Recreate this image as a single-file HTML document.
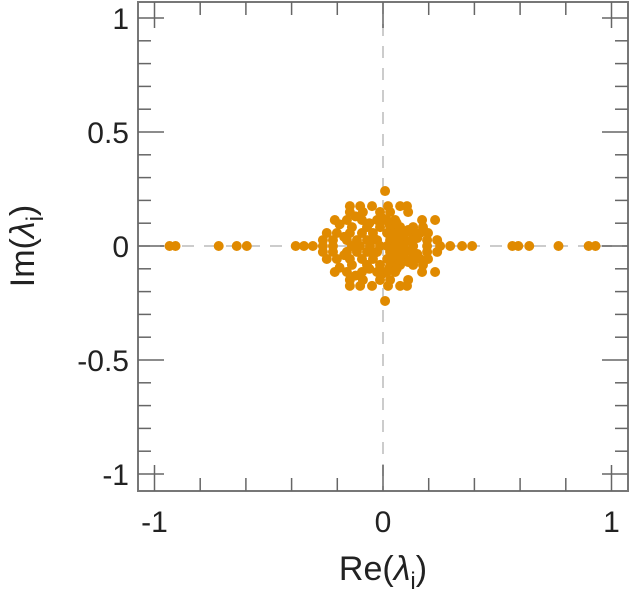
<!DOCTYPE html>
<html><head><meta charset="utf-8"><style>
html,body{margin:0;padding:0;background:#fff;width:630px;height:600px;overflow:hidden}
svg text{font-family:"Liberation Sans",sans-serif;fill:#222}
</style></head><body>
<svg id="chart" width="630" height="600" xmlns="http://www.w3.org/2000/svg">
<g id="grid"></g>
<g id="pts"></g>
<g id="axes"></g>
<text x="383" y="580" font-size="34" text-anchor="middle">Re(<tspan font-style="italic">λ</tspan><tspan font-size="24" dy="9">i</tspan><tspan dy="-9">)</tspan></text>
<text transform="translate(34,246) rotate(-90)" font-size="34" text-anchor="middle">Im(<tspan font-style="italic">λ</tspan><tspan font-size="24" dy="9">i</tspan><tspan dy="-9">)</tspan></text>
</svg>
<script>
const reVals=[0.009,0.009,
-0.145,-0.10,-0.048,0.022,0.075,0.105,-0.145,-0.10,-0.048,0.022,0.075,0.105,
-0.145,-0.088,-0.013,0.031,0.110,-0.145,-0.088,-0.013,0.031,0.110,
-0.211,-0.158,-0.092,-0.026,0.053,0.171,0.228,-0.211,-0.158,-0.092,-0.026,0.053,0.171,0.228,
-0.136,-0.070,-0.013,0.075,0.132,0.175,0.03,0.05,-0.136,-0.070,-0.013,0.075,0.132,0.175,0.03,0.05,
-0.246,-0.202,-0.145,-0.092,-0.044,0.018,0.061,0.127,0.162,0.197,0.04,0.09,-0.246,-0.202,-0.145,-0.092,-0.044,0.018,0.061,0.127,0.162,0.197,0.04,0.09,
-0.263,-0.219,-0.158,-0.114,-0.070,-0.026,0.031,0.075,0.127,0.193,0.237,0.05,0.10,-0.263,-0.219,-0.158,-0.114,-0.070,-0.026,0.031,0.075,0.127,0.193,0.237,0.05,0.10,
-0.19,-0.12,-0.06,0.0,0.06,0.11,0.15,-0.19,-0.12,-0.06,0.0,0.06,0.11,0.15,
-0.17,-0.04,0.02,0.07,-0.17,-0.04,0.02,0.07,
-0.934,-0.908,-0.719,-0.640,-0.596,-0.382,-0.346,-0.307,-0.263,-0.219,-0.136,-0.101,-0.057,-0.013,0.018,0.053,0.088,0.132,0.193,0.250,0.294,0.346,0.390,0.566,0.592,0.640,0.768,0.900,0.930];
const imVals=[0.241,-0.241,
0.175,0.175,0.175,0.175,0.175,0.175,-0.175,-0.175,-0.175,-0.175,-0.175,-0.175,
0.149,0.149,0.149,0.149,0.149,-0.149,-0.149,-0.149,-0.149,-0.149,
0.114,0.114,0.114,0.114,0.114,0.114,0.114,-0.114,-0.114,-0.114,-0.114,-0.114,-0.114,-0.114,
0.083,0.083,0.083,0.083,0.083,0.083,0.09,0.07,-0.083,-0.083,-0.083,-0.083,-0.083,-0.083,-0.09,-0.07,
0.057,0.057,0.057,0.057,0.057,0.057,0.057,0.057,0.057,0.057,0.05,0.045,-0.057,-0.057,-0.057,-0.057,-0.057,-0.057,-0.057,-0.057,-0.057,-0.057,-0.05,-0.045,
0.026,0.026,0.026,0.026,0.026,0.026,0.026,0.026,0.026,0.026,0.026,0.02,0.02,-0.026,-0.026,-0.026,-0.026,-0.026,-0.026,-0.026,-0.026,-0.026,-0.026,-0.026,-0.02,-0.02,
0.095,0.13,0.10,0.12,0.10,0.07,0.035,-0.095,-0.13,-0.10,-0.12,-0.10,-0.07,-0.035,
0.04,0.035,0.11,0.035,-0.04,-0.035,-0.11,-0.035,
0,0,0,0,0,0,0,0,0,0,0,0,0,0,0,0,0,0,0,0,0,0,0,0,0,0,0,0,0];
const xTickLabels=["-1","0","1"];
const yTickLabels=["1","0.5","0","-0.5","-1"];
const xTickVals=[-1,0,1];
const yTickVals=[1,0.5,0,-0.5,-1];

const NS="http://www.w3.org/2000/svg";
const L=138,R=628,T=2,B=491;
function sx(v){return 383+v*228.5;}
function sy(v){return 246-v*228;}
function mk(tag,attrs,parent){const e=document.createElementNS(NS,tag);for(const k in attrs)e.setAttribute(k,attrs[k]);parent.appendChild(e);return e;}
const grid=document.getElementById('grid'),pts=document.getElementById('pts'),axes=document.getElementById('axes');
let g1=mk('line',{x1:L,x2:R,y1:sy(0),y2:sy(0),stroke:'#ccc','stroke-width':2,'stroke-dasharray':'12,10'},grid);


let g2=mk('line',{x1:sx(0),x2:sx(0),y1:T,y2:B,stroke:'#ccc','stroke-width':2,'stroke-dasharray':'12,10'},grid);


for(let i=0;i<reVals.length;i++){
  const c=mk('circle',{cx:sx(reVals[i]),cy:sy(imVals[i]),r:5,fill:'#e08a00'},pts);
  
  
}
const fr=mk('rect',{x:L,y:T,width:R-L,height:B-T,fill:'none',stroke:'#777','stroke-width':2},axes);


for(let k=-5;k<=5;k++){
  const v=k*0.2,x=sx(v),len=(k%5===0)?26:13;
  mk('line',{x1:x,x2:x,y1:B,y2:B-len,stroke:'#666','stroke-width':1.5},axes);
  mk('line',{x1:x,x2:x,y1:T,y2:T+len,stroke:'#666','stroke-width':1.5},axes);
}
for(let k=-10;k<=10;k++){
  const v=k*0.1,y=sy(v),len=(k%5===0)?26:13;
  mk('line',{x1:L,x2:L+len,y1:y,y2:y,stroke:'#666','stroke-width':1.5},axes);
  mk('line',{x1:R,x2:R-len,y1:y,y2:y,stroke:'#666','stroke-width':1.5},axes);
}
for(let i=0;i<xTickVals.length;i++){
  const t=mk('text',{x:sx(xTickVals[i]),y:532,'font-size':30,'text-anchor':'middle'},document.getElementById('chart'));
  t.textContent=xTickLabels[i];
  
  
}
for(let i=0;i<yTickVals.length;i++){
  const t=mk('text',{x:129,y:sy(yTickVals[i])+11,'font-size':30,'text-anchor':'end'},document.getElementById('chart'));
  t.textContent=yTickLabels[i];
  
  
}
</script>
</body></html>
